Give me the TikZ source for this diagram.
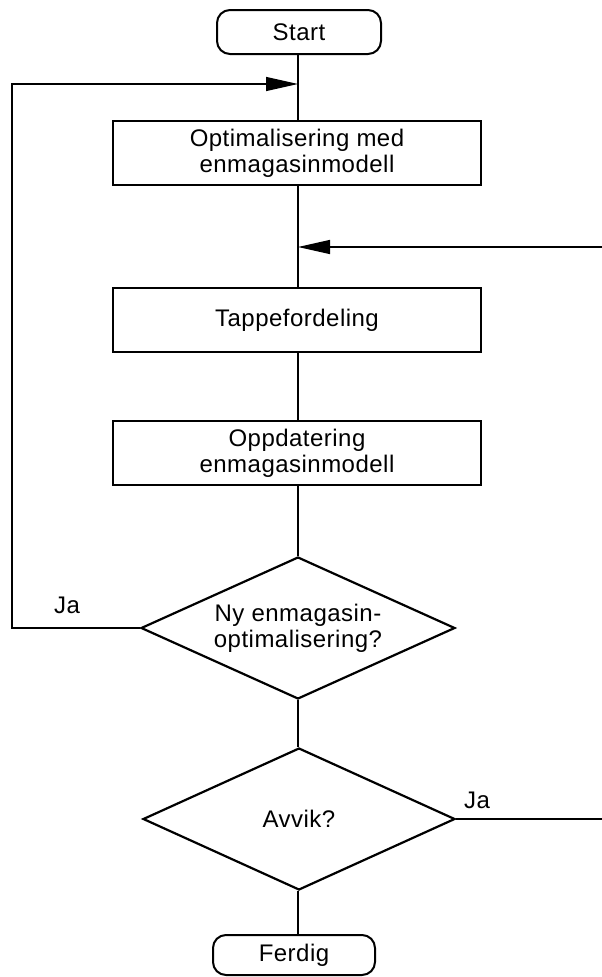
\documentclass[tikz,border=0pt]{standalone}
\usepackage{fontspec}
\setmainfont[LetterSpace=2]{Liberation Sans}
\usetikzlibrary{arrows.meta,shapes.geometric}

\begin{document}
\begin{tikzpicture}[x=1pt,y=-1pt,
  every node/.style={font=\fontsize{24}{26}\selectfont, align=center, inner sep=0pt},
  terminal/.style={draw, line width=2pt, rounded corners=13pt, minimum width=164pt, minimum height=44pt},
  process/.style={draw, line width=2pt, minimum width=368pt, minimum height=64pt},
  decision/.style={draw, diamond, line width=2.2pt, minimum width=314pt, minimum height=142pt},
  flow/.style={line width=2pt},
  feedback/.style={line width=1.3pt, -{Triangle[length=32pt,width=14pt]}},
  branch/.style={line width=1.3pt}
]
\useasboundingbox (0,0) rectangle (602,977);

% main column
\node[terminal] (start) at (299,32) {Start};
\node[process] (opt) at (297,153) {Optimalisering med\\enmagasinmodell};
\node[process] (tap) at (297,320) {Tappefordeling};
\node[process] (opp) at (297,453) {Oppdatering\\enmagasinmodell};
\node[decision] (ny) at (298,628) {};
\node (nytext) at (ny.center) {Ny enmagasin-\\optimalisering?};
\node[decision, minimum width=312pt] (avvik) at (299,819) {};
\node (avviktext) at (avvik.center) {Avvik?};
\node[terminal, minimum width=162pt, minimum height=40pt] (ferdig) at (294,955) {Ferdig};

% auxiliary points for the side branches
\coordinate (loopx) at (12,0);
\coordinate (redge) at (602,247);
\coordinate (loopin) at (298,84);
\coordinate (rightin) at (298,247);

% vertical flow
\draw[flow] (298,0 |- start.south) -- (298,0 |- opt.north);
\draw[flow] (298,0 |- opt.south) -- (298,0 |- tap.north);
\draw[flow] (298,0 |- tap.south) -- (298,0 |- opp.north);
\draw[flow] (298,0 |- opp.south) -- (298,0 |- ny.north);
\draw[flow] (298,0 |- ny.south) -- (298,0 |- avvik.north);
\draw[flow] (298,0 |- avvik.south) -- (298,0 |- ferdig.north);

% loop back to the first optimisation
\draw[feedback] (ny.west) -- (ny.west -| loopx) |- (loopin);
\node (ja1) at (67,605) {Ja};

% re-entry from the right
\draw[feedback] (redge) -- (rightin);

% deviation branch
\draw[branch] (avvik.east) -- (avvik.east -| redge);
\node (ja2) at (477,800) {Ja};
\end{tikzpicture}
\end{document}
